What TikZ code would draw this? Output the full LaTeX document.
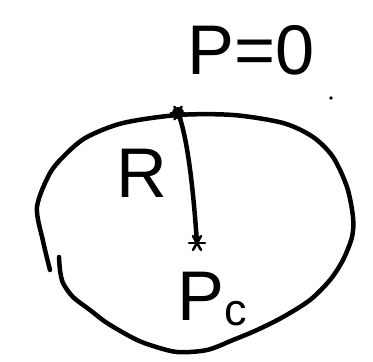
\documentclass[tikz,border=0pt]{standalone}
\usepackage{fontspec}
\setmainfont{Liberation Sans}
\usepackage{tikz}

\tikzset{
  inkline/.style={black, line width=3.2pt, line cap=round, line join=round},
  inklabel/.style={inner sep=0pt, font=\fontsize{50}{50}\selectfont}
}

\begin{document}
\begin{tikzpicture}[>=stealth]
  \useasboundingbox (0,0) rectangle (9.325,9.025);

  % ---------------- the body: one loose hand-drawn loop ----------------
  \draw[inkline, smooth] plot coordinates {
    (1.25,2.275) (1.075,3.0) (0.925,3.85) (1.25,4.7) (1.675,5.2)
    (2.175,5.6) (3.075,5.95) (4.45,6.15) (5.825,6.15) (7.075,5.95)
    (7.825,5.6) (8.325,5.1) (8.675,4.35) (8.825,3.6) (8.8,3.1)
    (8.575,2.525) (8.25,2.025) (7.75,1.525) (7.075,1.1) (6.425,0.775)
    (5.825,0.525) (5.175,0.275) (4.425,0.225) (3.75,0.4) (3.325,0.575)
    (2.675,0.95) (2.25,1.275) (1.825,1.6) (1.575,1.95) (1.5,2.275)
    (1.475,2.6)};

  % ---------------- the two marked points ----------------
  \coordinate (top) at (4.45,6.2);
  \coordinate (ctr) at (4.925,2.95);
  \fill (top) circle (0.15);
  \foreach \a in {0,60,120} {
    \draw[inkline, line width=1.8pt] (top) +(\a:0.18) -- +(\a+180:0.18);
    \draw[inkline, line width=1.8pt] (ctr) +(\a:0.2) -- +(\a+180:0.2);
  }

  % ---------------- the radius ----------------
  \draw[inkline] (top) to[out=-68, in=94, looseness=0.6] (ctr);

  % ---------------- labels ----------------
  \node[inklabel] (surf)  at (6.275,7.775) {P=0};
  \node[inklabel] (rlab)  at (3.55,4.7)    {R};
  \node[inklabel] (pcent) at (5.3,1.55)
    {P\raisebox{-0.12cm}{\fontsize{32}{32}\selectfont c}};

  % stray dot
  \fill (8.275,6.575) circle (0.045);
\end{tikzpicture}
\end{document}
